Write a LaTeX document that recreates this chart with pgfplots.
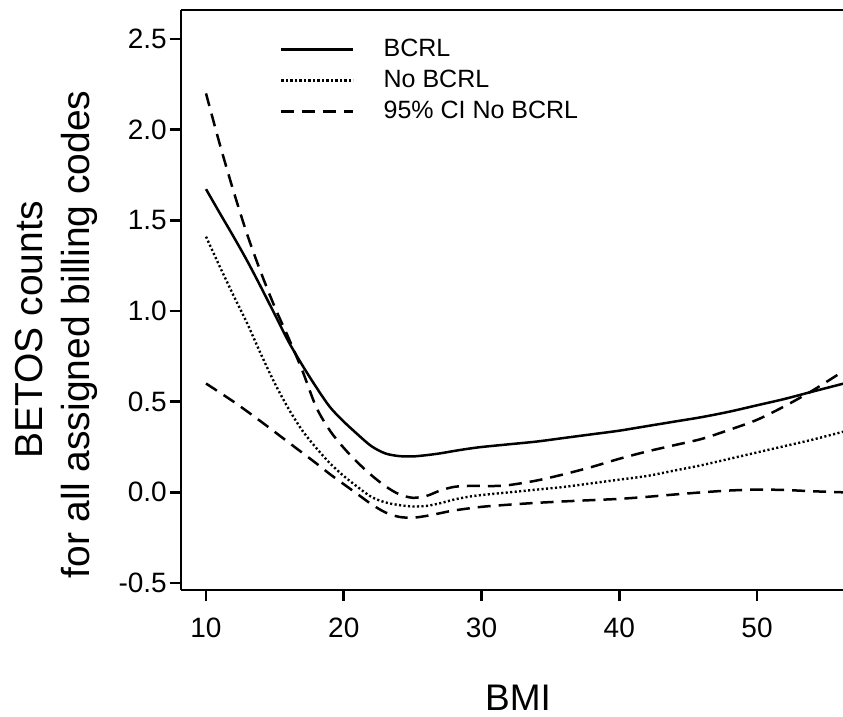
\documentclass[border=0pt]{standalone}
\usepackage{fontspec}
\setmainfont{Liberation Sans}
\usepackage{pgfplots}
\pgfplotsset{compat=1.18}

\begin{document}
\begin{tikzpicture}
\begin{axis}[
  at={(0pt,0pt)}, anchor=south west,
  scale only axis, width=662pt, height=580pt,
  xmin=8.185, xmax=56.24, ymin=-0.5386, ymax=2.66,
  axis x line*=box, axis y line*=left,
  axis line style={-, line width=2.6pt, black},
  xtick={10,20,30,40,50},
  ytick={-0.5,0,0.5,1,1.5,2,2.5},
  yticklabels={-0.5,0.0,0.5,1.0,1.5,2.0,2.5},
  xtick pos=bottom, ytick pos=left,
  tick align=outside, major tick length=11pt,
  tick style={line width=2.6pt, black},
  /pgf/number format/assume math mode=true,
  ticklabel style={font=\fontsize{28}{34}\selectfont, inner sep=0pt},
  yticklabel style={xshift=-3pt},
  xticklabel style={yshift=-17pt},
  legend style={draw=none, fill=none, inner sep=0pt,
    at={(axis description cs:0.1495,0.951)}, anchor=north west,
    font=\fontsize{25}{30}\selectfont, row sep=13.5pt, column sep=29pt,
    nodes={inner sep=0pt, text height=17.5pt, text depth=0pt}},
  legend cell align=left,
  legend image code/.code={\draw[#1] (0pt,-2pt) -- (72pt,-2pt);},
]
% BCRL
\addplot[black, line width=2.5pt, smooth] coordinates {
(10,1.672) (11,1.54) (12,1.41) (13,1.275) (14,1.13) (15,0.98) (16,0.83)
(17,0.70) (18,0.58) (19,0.47) (20,0.39) (21,0.32) (22,0.255) (23,0.215)
(24,0.20) (25,0.198) (26,0.205) (27,0.215) (28,0.228) (29,0.24) (30,0.25)
(32,0.265) (34,0.28) (36,0.30) (38,0.32) (40,0.34) (42,0.365) (44,0.39)
(46,0.415) (48,0.445) (50,0.48) (52,0.515) (54,0.555) (56.3,0.60)
};
\addlegendentry{BCRL}
% No BCRL
\addplot[black, line width=2.4pt, dash pattern=on 2.1pt off 2.4pt, smooth] coordinates {
(10,1.41) (11,1.245) (12,1.085) (13,0.93) (14,0.76) (15,0.60) (16,0.46)
(17,0.34) (18,0.245) (19,0.16) (20,0.09) (21,0.03) (22,-0.025) (23,-0.055)
(24,-0.07) (25,-0.078) (26,-0.075) (27,-0.06) (28,-0.04) (29,-0.025) (30,-0.015)
(32,0.0) (34,0.015) (36,0.03) (38,0.05) (40,0.07) (42,0.09) (44,0.12)
(46,0.15) (48,0.185) (50,0.22) (52,0.255) (54,0.29) (56.3,0.335)
};
\addlegendentry{No BCRL}
% 95% CI upper
\addplot[black, line width=2.5pt, dash pattern=on 13pt off 8pt, smooth] coordinates {
(10,2.20) (11,1.92) (12,1.66) (13,1.42) (14,1.21) (15,1.02) (16,0.85)
(17,0.67) (18,0.47) (19,0.34) (20,0.245) (21,0.165) (22,0.095) (23,0.035)
(24,-0.01) (25,-0.03) (26,-0.02) (27,0.01) (28,0.03) (29,0.035) (30,0.035)
(31,0.035) (32,0.04) (34,0.065) (36,0.10) (38,0.14) (40,0.185) (42,0.225)
(44,0.26) (46,0.295) (48,0.345) (50,0.40) (52,0.475) (54,0.56) (56.3,0.67)
};
\addlegendentry{95\% CI No BCRL}
% 95% CI lower
\addplot[black, line width=2.5pt, dash pattern=on 13pt off 8pt, smooth, forget plot] coordinates {
(10,0.60) (12,0.50) (14,0.39) (16,0.275) (18,0.16) (19,0.10) (20,0.045)
(21,-0.01) (22,-0.065) (23,-0.11) (24,-0.135) (25,-0.14) (26,-0.13) (27,-0.115)
(28,-0.10) (30,-0.08) (32,-0.068) (34,-0.058) (36,-0.05) (38,-0.043) (40,-0.036)
(42,-0.025) (44,-0.012) (46,0.0) (48,0.01) (50,0.015) (52,0.013) (54,0.006) (56.3,0.0)
};
\end{axis}
\node[rotate=90, anchor=base, inner sep=0pt, font=\fontsize{39}{47}\selectfont] at (-138pt,260pt) {BETOS counts};
\node[rotate=90, anchor=base, inner sep=0pt, font=\fontsize{39}{47}\selectfont] at (-91pt,255.5pt) {for all assigned billing codes};
\node[anchor=base, inner sep=0pt, font=\fontsize{37}{44}\selectfont] at (337pt,-120pt) {BMI};
\pgfresetboundingbox
\path (-181pt,-127pt) rectangle (662pt,590pt);
\end{tikzpicture}
\end{document}
